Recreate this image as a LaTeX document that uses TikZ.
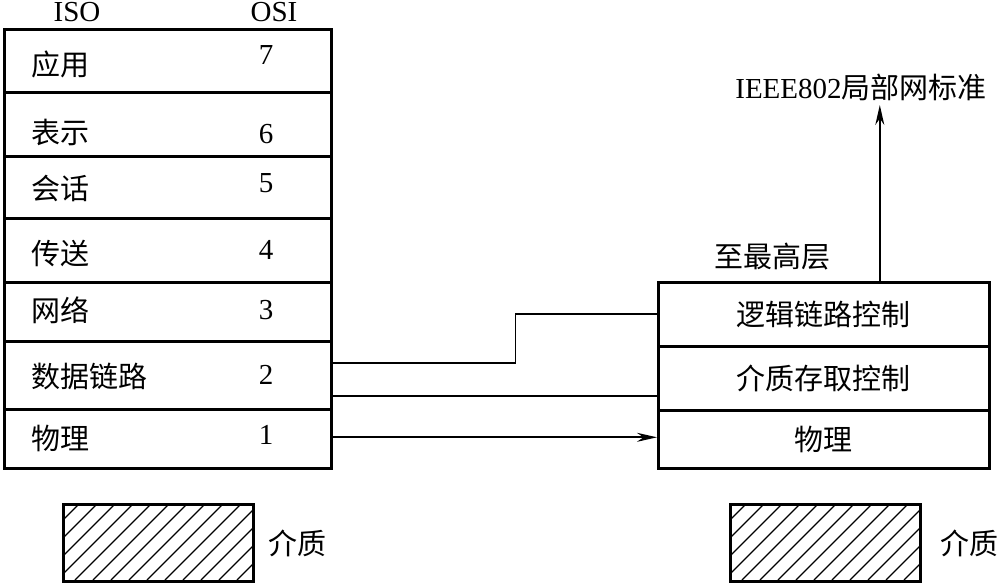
\documentclass[tikz,border=0pt]{standalone}
\usepackage{fontspec}
\setmainfont{Liberation Serif}
\newfontfamily\cjk{Noto Sans CJK SC}
\usetikzlibrary{arrows.meta}
\tikzset{
  rowbox/.style={draw, line width=2.6pt, inner sep=0pt, anchor=north west},
  txt/.style={inner sep=0pt, font=\fontsize{29}{34}\selectfont},
  ctxt/.style={inner sep=0pt, font=\fontsize{29}{34}\selectfont\cjk},
  conn/.style={line width=1.7pt},
  arr/.style={conn, -{Stealth[length=20pt,width=9pt]}},
  hatchln/.style={line width=1.2pt},
}
\begin{document}
\begin{tikzpicture}[x=1pt,y=-1pt]
\useasboundingbox (0,0) rectangle (998,582);
% headers
\node[txt, anchor=base] (iso) at (77,21) {ISO};
\node[txt, anchor=base] (osi) at (274,21) {OSI};
% left stack
\node[rowbox, minimum width=327pt, minimum height=63pt] (L7) at (3,28) {};
\node[rowbox, minimum width=327pt, minimum height=64pt] (L6) at (3,91) {};
\node[rowbox, minimum width=327pt, minimum height=62pt] (L5) at (3,155) {};
\node[rowbox, minimum width=327pt, minimum height=64pt] (L4) at (3,217) {};
\node[rowbox, minimum width=327pt, minimum height=59pt] (L3) at (3,281) {};
\node[rowbox, minimum width=327pt, minimum height=68pt] (L2) at (3,340) {};
\node[rowbox, minimum width=327pt, minimum height=59pt] (L1) at (3,408) {};
% labels
\node[ctxt, anchor=west] (t7) at (31,64) {应用};
\node[ctxt, anchor=west] (t6) at (31,132) {表示};
\node[ctxt, anchor=west] (t5) at (31,188) {会话};
\node[ctxt, anchor=west] (t4) at (31,253) {传送};
\node[ctxt, anchor=west] (t3) at (31,310) {网络};
\node[ctxt, anchor=west] (t2) at (31,376) {数据链路};
\node[ctxt, anchor=west] (t1) at (31,438) {物理};
% numbers
\node[txt] (n7) at (266,55) {7};
\node[txt] (n6) at (266,134) {6};
\node[txt] (n5) at (266,183) {5};
\node[txt] (n4) at (266,250) {4};
\node[txt] (n3) at (266,310) {3};
\node[txt] (n2) at (266,375) {2};
\node[txt] (n1) at (266,435) {1};
% right stack
\node[rowbox, minimum width=331pt, minimum height=64pt, font=\fontsize{29}{34}\selectfont\cjk] (RLLC) at (657,281) {逻辑链路控制};
\node[rowbox, minimum width=331pt, minimum height=64pt, font=\fontsize{29}{34}\selectfont\cjk] (RMAC) at (657,345) {介质存取控制};
\node[rowbox, minimum width=331pt, minimum height=58pt, font=\fontsize{29}{34}\selectfont\cjk] (RPHY) at (657,409) {物理};
\node[ctxt] (top) at (772,257) {至最高层};
\node[txt] (ieee) at (861,87) {IEEE802{\cjk 局部网标准}};
% connectors
\coordinate (a1) at ([yshift=12pt]L2.east);
\draw[conn] (a1) -- ++(183,0) |- (RLLC.west);
\coordinate (a2) at ([yshift=-21pt]L2.east);
\draw[conn] (a2) -- (a2 -| RMAC.west);
\coordinate (a3) at ([yshift=1.5pt]L1.east);
\draw[arr] (a3) -- (a3 -| RPHY.west);
\coordinate (up) at ([xshift=56pt]RLLC.north);
\draw[arr] (up) -- (up |- 0,105);
% medium boxes
\begin{scope}
\clip (62,503) rectangle (252,580);
\foreach \x in {-15,3,...,260} \draw[hatchln] ({\x},580) -- ({\x+77},503);
\end{scope}
\begin{scope}
\clip (729,503) rectangle (919,580);
\foreach \x in {652,670,...,930} \draw[hatchln] ({\x},580) -- ({\x+77},503);
\end{scope}
\node[rowbox, minimum width=190pt, minimum height=77pt] (m1) at (62,503) {};
\node[rowbox, minimum width=190pt, minimum height=77pt] (m2) at (729,503) {};
\node[ctxt, anchor=west] (ml1) at (268,543) {介质};
\node[ctxt, anchor=west] (ml2) at (940,543) {介质};
\end{tikzpicture}
\end{document}
